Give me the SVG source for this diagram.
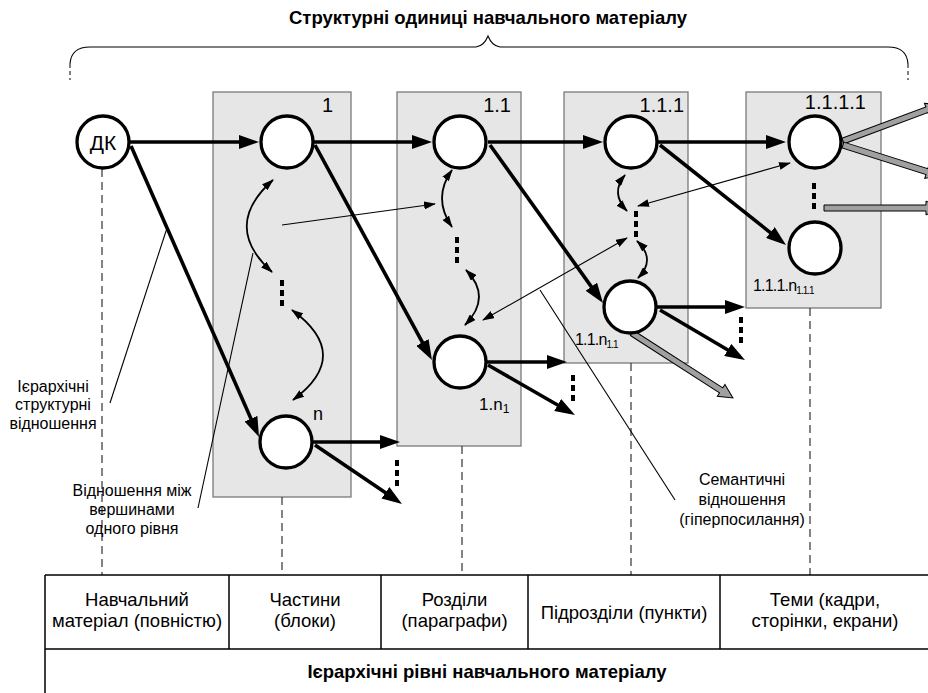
<svg xmlns="http://www.w3.org/2000/svg" width="928" height="693" viewBox="0 0 928 693">
<style>
text{font-family:"Liberation Sans",Arial,sans-serif;fill:#000}
.title{font-size:18.5px;font-weight:bold;text-anchor:middle}
.cell{font-size:18.5px;text-anchor:middle}
.side{font-size:16px;text-anchor:middle}
.blab{font-size:20px;text-anchor:end}
.nlab{font-size:16px;letter-spacing:-0.8px}
.box{fill:#e6e6e6;stroke:#7a7a7a;stroke-width:1.3}
.node{fill:#fff;stroke:#000;stroke-width:3.3}
.thick{stroke:#000;stroke-width:3.6;fill:none;marker-end:url(#ah)}
.thin{stroke:#000;stroke-width:1.1;fill:none}
.curve{stroke:#000;stroke-width:1.8;fill:none;marker-start:url(#th);marker-end:url(#th)}
.dots{stroke:#000;stroke-width:4;stroke-dasharray:6 4;fill:none}
.dash{stroke:#333;stroke-width:1.2;stroke-dasharray:8 5;fill:none}
.gray{fill:#a0a0a0;stroke:#000;stroke-width:1}
.tbl{stroke:#000;stroke-width:1.5;fill:none}
</style>
<defs>
<marker id="ah" markerUnits="userSpaceOnUse" markerWidth="20" markerHeight="14" refX="14" refY="7" orient="auto"><path d="M0,0 L20,7 L0,14 z" fill="#000"/></marker>
<marker id="th" markerUnits="userSpaceOnUse" markerWidth="12" markerHeight="8" refX="11" refY="4" orient="auto-start-reverse"><path d="M0,0 L12,4 L0,8 z" fill="#000"/></marker>
</defs>

<!-- top title and brace -->
<text class="title" x="488" y="24">Структурні одиниці навчального матеріалу</text>
<path class="thin" d="M70,64 Q71,47 90,47 L476,47 Q484,46 488,36 Q492,46 500,47 L888,47 Q907,47 908,64"/>
<path d="M70,64 L70,80 M908,64 L908,80" stroke="#000" stroke-width="1" stroke-dasharray="4 3"/>

<!-- level boxes -->
<g id="box-1"><rect class="box" x="213" y="92" width="138" height="405"/><text class="blab" x="333" y="112">1</text></g>
<g id="box-1-1"><rect class="box" x="397" y="92" width="124" height="354"/><text class="blab" x="511" y="112">1.1</text></g>
<g id="box-1-1-1"><rect class="box" x="564" y="92" width="124" height="271"/><text class="blab" x="684" y="112">1.1.1</text></g>
<g id="box-1-1-1-1"><rect class="box" x="746" y="92" width="135" height="216"/><text class="blab" x="866" y="109">1.1.1.1</text></g>

<!-- dashed level guides -->
<g id="guides">
<path class="dash" d="M102,169 L102,575"/>
<path class="dash" d="M282,497 L282,575"/>
<path class="dash" d="M462,446 L462,575"/>
<path class="dash" d="M631,363 L631,575"/>
<path class="dash" d="M810,308 L810,575"/>
</g>

<!-- connectors -->
<g id="connectors">
<path class="thick" d="M129,142 L253,142"/>
<path class="thick" d="M314,142 L426,142"/>
<path class="thick" d="M488,142 L597,142"/>
<path class="thick" d="M658,142 L780,142"/>
<path class="thick" d="M131,146 L256.6,431.5"/>
<path class="thick" d="M315,145 L429.1,354.7"/>
<path class="thick" d="M490,145 L599.5,298.1"/>
<path class="thick" d="M660,145 L781.3,241.3"/>
<path class="thick" d="M313,442 L394,442"/>
<path class="thick" d="M315,445 L397,500.6"/>
<path class="thick" d="M487,362 L561,362"/>
<path class="thick" d="M488,365 L569.8,412"/>
<path class="thick" d="M657,307 L739,307"/>
<path class="thick" d="M660,310 L739.8,357"/>

<path class="dots" d="M282,280 L282,306"/>
<path class="dots" d="M457,237 L457,263"/>
<path class="dots" d="M636,211 L636,237"/>
<path class="dots" d="M814,183 L814,209"/>
<path class="dots" d="M397,460 L397,486"/>
<path class="dots" d="M573,375 L573,401"/>
<path class="dots" d="M741,317 L741,343"/>

<path class="curve" d="M273,180 Q221,226 272,272"/>
<path class="curve" d="M292,310 Q353.5,355 293,400"/>
<path class="curve" d="M452,170 Q432,198 452,227"/>
<path class="curve" d="M466,270 Q492.5,297 465,325"/>
<path class="curve" d="M625,175 Q610,193 627,211"/>
<path class="curve" d="M637,241 Q656.5,259.5 638,278"/>

<path class="thin" d="M282,225 L435,204" marker-end="url(#th)"/>
<path class="thin" d="M483,320 L627,238" marker-start="url(#th)" marker-end="url(#th)"/>
<path class="thin" d="M638,206 L790,163" marker-start="url(#th)" marker-end="url(#th)"/>

<path class="thin" d="M167,228 L110,403"/>
<path class="thin" d="M253,253 L198,508"/>
<path class="thin" d="M540,290 L675,500"/>

<polygon class="gray" transform="translate(632,333) rotate(32.76)" points="0,-3 106,-3 106,-7 120,0 106,7 106,3 0,3"/>
<polygon class="gray" transform="translate(843,141) rotate(-20.4)" points="0,-3 89.5,-3 89.5,-7 103.5,0 89.5,7 89.5,3 0,3"/>
<polygon class="gray" transform="translate(843,145) rotate(17.6)" points="0,-3 88,-3 88,-7 102,0 88,7 88,3 0,3"/>
<polygon class="gray" transform="translate(824,208)" points="0,-3 102,-3 102,-7 116,0 102,7 102,3 0,3"/>
</g>

<!-- nodes -->
<g id="node-dk"><circle class="node" cx="103" cy="142" r="26"/><text x="103" y="150" style="font-size:21px" text-anchor="middle">ДК</text></g>
<g id="node-1"><circle class="node" cx="287" cy="142" r="26"/></g>
<g id="node-n"><circle class="node" cx="286" cy="442" r="26"/><text class="nlab" x="313" y="420" style="font-size:18px">n</text></g>
<g id="node-1-1"><circle class="node" cx="460" cy="142" r="26"/></g>
<g id="node-1-n1"><circle class="node" cx="460" cy="362" r="26"/><text class="nlab" x="479" y="410" style="font-size:17px;letter-spacing:0">1.n<tspan style="font-size:12px" dy="3">1</tspan></text></g>
<g id="node-1-1-1"><circle class="node" cx="631" cy="142" r="26"/></g>
<g id="node-1-1-n"><circle class="node" cx="630" cy="307" r="26"/><text class="nlab" x="575" y="345">1.1.n<tspan style="font-size:10px;letter-spacing:-1px" dy="3">1.1</tspan></text></g>
<g id="node-1-1-1-1"><circle class="node" cx="815" cy="142" r="26"/></g>
<g id="node-1-1-1-n"><circle class="node" cx="815" cy="248" r="26"/><text class="nlab" x="753" y="291">1.1.1.n<tspan style="font-size:10px;letter-spacing:-1px" dy="3">1.1.1</tspan></text></g>

<!-- callout labels -->
<g id="label-hier"><text class="side" x="53" y="392">Ієрархічні</text><text class="side" x="53" y="410">структурні</text><text class="side" x="53" y="429">відношення</text></g>
<g id="label-same"><text class="side" x="132" y="496">Відношення між</text><text class="side" x="132" y="515">вершинами</text><text class="side" x="132" y="534">одного рівня</text></g>
<g id="label-sem"><text class="side" x="742" y="485">Семантичні</text><text class="side" x="742" y="505">відношення</text><text class="side" x="742" y="525">(гіперпосилання)</text></g>

<!-- bottom table -->
<g id="table">
<path class="tbl" d="M45,575 L928,575 M45,649 L928,649 M45,575 L45,693 M229,575 L229,649 M381,575 L381,649 M528,575 L528,649 M720,575 L720,649"/>
<text class="cell" x="137" y="606">Навчальний</text>
<text class="cell" x="137" y="627">матеріал (повністю)</text>
<text class="cell" x="305" y="606">Частини</text>
<text class="cell" x="305" y="627">(блоки)</text>
<text class="cell" x="454.5" y="606">Розділи</text>
<text class="cell" x="454.5" y="627">(параграфи)</text>
<text class="cell" x="624" y="619">Підрозділи (пункти)</text>
<text class="cell" x="825" y="606">Теми (кадри,</text>
<text class="cell" x="825" y="627">сторінки, екрани)</text>
<text class="title" x="487" y="678">Ієрархічні рівні навчального матеріалу</text>
</g>
</svg>
